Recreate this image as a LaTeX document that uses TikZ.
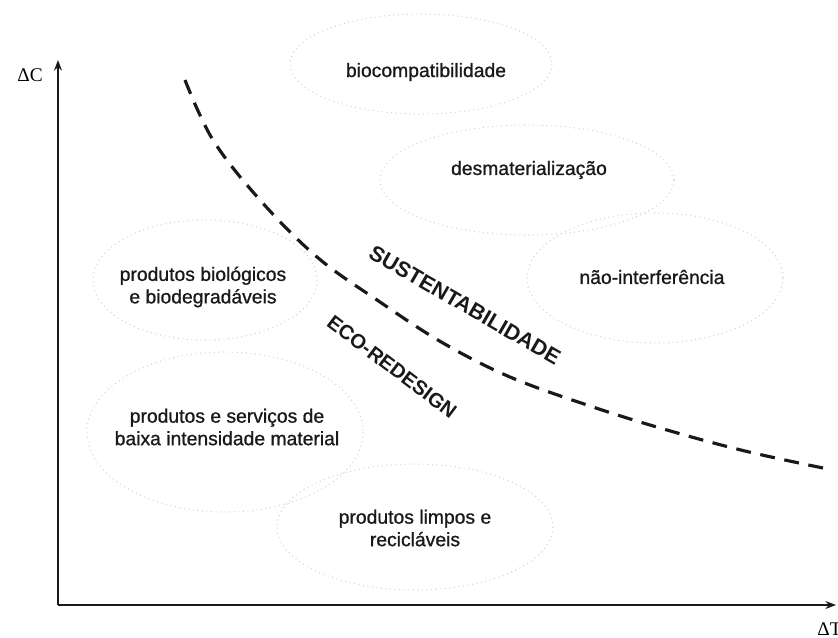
\documentclass[tikz,border=0pt]{standalone}
\usepackage{fontspec}
\setmainfont{Liberation Sans}
\newfontfamily\axisfont{Liberation Serif}
\newfontfamily\zonefont[FakeBold=0.9]{Liberation Sans}
\usetikzlibrary{positioning,calc}
\usetikzlibrary{arrows.meta}
\definecolor{ZoneGray}{RGB}{212,212,212}
\definecolor{InkBlack}{RGB}{25,25,25}
\tikzset{
  axis/.style={draw=InkBlack,line width=1.1pt,-{Stealth[length=6pt,width=4.5pt]}},
  frontier/.style={draw=InkBlack,line width=1.8pt,dash pattern=on 8.5pt off 5.5pt},
  zone/.style={draw=ZoneGray,line width=0.6pt,dotted},
}
\tikzset{zlabel/.style={font=\zonefont\fontsize{11}{12.8}\selectfont,text=InkBlack,align=center,inner sep=0pt}, tag/.style={font=\fontsize{12.3}{14}\selectfont\bfseries,text=InkBlack,inner sep=0pt}, axlab/.style={font=\axisfont\fontsize{11}{13}\selectfont,inner sep=0pt}}

\begin{document}
\begin{tikzpicture}[x=0.02cm,y=-0.02cm]
\useasboundingbox (0,0) rectangle (838,637);
\coordinate (o) at (58,605);
\coordinate (ytop) at (58,60);
\coordinate (xend) at (836,605);
\draw[zone] (421,64) ellipse [x radius=131,y radius=50];
\draw[zone] (527,180) ellipse [x radius=147,y radius=55];
\draw[zone] (655,278) ellipse [x radius=128,y radius=65];
\draw[zone] (205,280) ellipse [x radius=112,y radius=60];
\draw[zone] (225,432) ellipse [x radius=138,y radius=80];
\draw[zone] (415,527) ellipse [x radius=138,y radius=63];
\draw[axis] (o) -- (ytop);
\draw[axis] (o) -- (xend);
\draw[frontier] plot[smooth,tension=0.6] coordinates {(185,80) (213,140) (260,200) (317,257) (380,302) (443,343) (510,377) (590,406) (667,430) (745,451) (823,468)};
\node[axlab] (dc) at (30,75) {ΔC};
\node[axlab,anchor=west] (dt) at (817,629) {ΔT};
\node[zlabel] (bio) at (426,72) {biocompatibilidade};
\node[zlabel] (desm) at (529,170) {desmaterialização};
\node[zlabel] (naoi) at (652,277) {não-interferência};
\node[zlabel] (biol) at (203,287) {produtos biológicos\\e biodegradáveis};
\node[zlabel] (serv) at (227,427) {produtos e serviços de\\baixa intensidade material};
\node[zlabel] (limp) at (415,528) {produtos limpos e\\recicláveis};
\node[tag,rotate=-30] (sust) at (465,305) {SUSTENTABILIDADE};
\node[tag,rotate=-37,font=\fontsize{11.5}{13}\selectfont\bfseries] (eco) at (392,367) {ECO-REDESIGN};
\end{tikzpicture}
\end{document}
